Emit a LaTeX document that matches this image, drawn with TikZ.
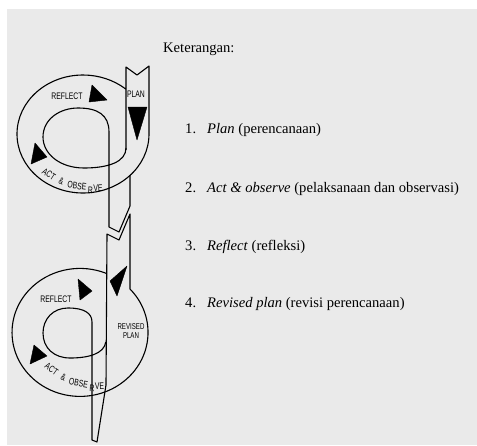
\documentclass[tikz,border=0pt]{standalone}
\usepackage{fontspec}
\setmainfont{Liberation Serif}
\newfontfamily\lblfont[FakeStretch=0.72]{Liberation Sans}
\definecolor{bg}{RGB}{234,234,234}
\begin{document}
\begin{tikzpicture}[x=1pt,y=-1pt,
  ring/.style={draw=black,line width=1.1pt,line join=round},
  tri/.style={fill=black,draw=black,line width=0.4pt,line join=round},
  lbl/.style={font=\lblfont\fontsize{9.5}{10}\selectfont,inner sep=0pt},
  item/.style={font=\fontsize{14.6}{16}\selectfont,inner sep=0pt,anchor=base west}]
\useasboundingbox (0,0) rectangle (477,445);
\fill[bg] (7,9) rectangle (477,445);
% ---------- first cycle ----------
\draw[ring] (126,150) -- (126,67) -- (137,75) -- (149,66) -- (149,134)
  arc[start angle=0,end angle=310,x radius=66,y radius=59];
\draw[ring] (126,148) .. controls (126,162) and (108,168) .. (84,168)
  .. controls (60,168) and (43,154) .. (43,137)
  .. controls (43,119) and (60,108) .. (78,108)
  .. controls (98,108) and (109,115) .. (109,132)
  -- (109,227) -- (119,232) -- (130,206) -- (130,175);
\fill[tri] (92,85) -- (89,102) -- (107,100) -- cycle;
\fill[tri] (128,107) -- (147,107) -- (137,140) -- cycle;
\fill[tri] (35,143) -- (31,164) -- (47,157) -- cycle;
\node[lbl] (reflectA) at (67,96) {REFLECT};
\node[lbl] (planA) at (136,94) {PLAN};
\node[lbl,rotate=-33] (actA) at (49,174) {ACT};
\node[lbl,rotate=-20] (ampA) at (61.5,181) {\&};
\node[lbl,rotate=-8] (obsA) at (77,186) {OBSE};
\node[lbl,rotate=-2] (rA) at (90.5,190) {R};
\node[lbl,rotate=2] (veA) at (98,188) {VE};
% ---------- second cycle ----------
\draw[ring] (106,385) -- (107,234) -- (119,240) -- (130,214) -- (130,289)
  arc[start angle=-42.7,end angle=292.5,x radius=68,y radius=64];
\draw[ring] (106,385) -- (97,442) -- (92,440) -- (92,322)
  .. controls (92,313) and (84,308) .. (68,308)
  .. controls (53,308) and (43,319) .. (43,333)
  .. controls (43,348) and (54,358) .. (70,358)
  .. controls (88,358) and (104,354) .. (105.8,342);
\fill[tri] (78,279) -- (80,300) -- (92,291) -- cycle;
\fill[tri] (127,266) -- (110,281) -- (117,296) -- cycle;
\fill[tri] (34,345) -- (30,364) -- (47,356) -- cycle;
\node[lbl] (reflectB) at (56,299) {REFLECT};
\node[lbl,align=center,font=\lblfont\fontsize{8.5}{9.5}\selectfont] (revised) at (131,331) {REVISED\\PLAN};
\node[lbl,rotate=-35] (actB) at (51.5,369) {ACT};
\node[lbl,rotate=-22] (ampB) at (63.5,377) {\&};
\node[lbl,rotate=-9] (obsB) at (78.5,383) {OBSE};
\node[lbl,rotate=-2] (rB) at (92,388) {R};
\node[lbl,rotate=2] (veB) at (99.5,386) {VE};
% ---------- legend ----------
\node[item] (ket) at (163,52) {Keterangan:};
\node[item] (n1) at (185,133) {1.};
\node[item] (t1) at (207,133) {\textit{Plan} (perencanaan)};
\node[item] (n2) at (185,192) {2.};
\node[item] (t2) at (207,192) {\textit{Act \& observe} (pelaksanaan dan observasi)};
\node[item] (n3) at (185,250) {3.};
\node[item] (t3) at (207,250) {\textit{Reflect} (refleksi)};
\node[item] (n4) at (185,307) {4.};
\node[item] (t4) at (207,307) {\textit{Revised plan} (revisi perencanaan)};
\end{tikzpicture}
\end{document}
